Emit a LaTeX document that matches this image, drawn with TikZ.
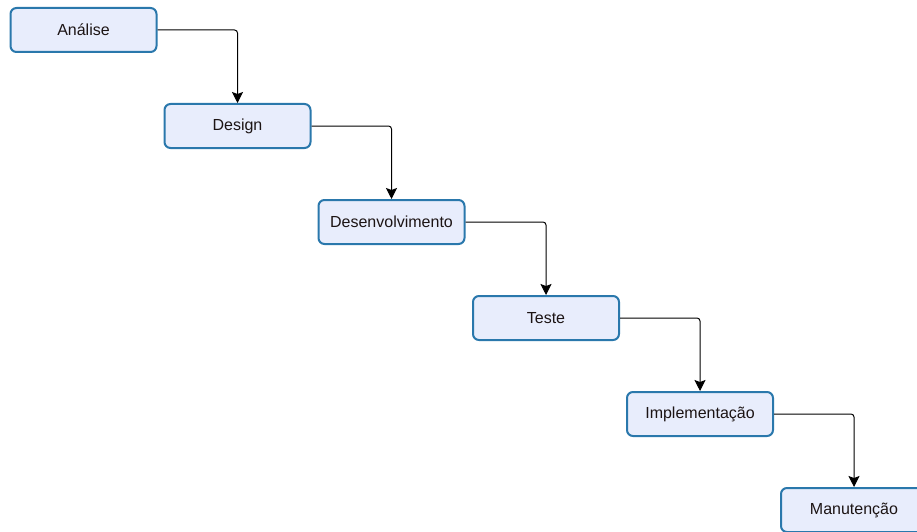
\documentclass[tikz,border=0pt]{standalone}
\usepackage{fontspec}
\setmainfont{Liberation Sans}
\usetikzlibrary{arrows.meta}
\definecolor{boxfill}{HTML}{E8EDFC}
\definecolor{boxline}{HTML}{2A78AC}
\definecolor{txt}{HTML}{1C1414}
\begin{document}
\begin{tikzpicture}[x=1pt,y=-1pt,
  stage/.style={draw=boxline,line width=2pt,fill=boxfill,rounded corners=6pt,
    minimum width=146pt,minimum height=44pt,inner sep=0pt,text=txt,
    font=\fontsize{16}{18}\selectfont},
  flow/.style={draw=black,line width=1pt,rounded corners=3pt,
    -{Stealth[length=11pt,width=11pt,inset=2pt]}}]
\useasboundingbox (0,0) rectangle (917,532);
\clip (0,0) rectangle (917,532);
\node[stage] (a) at (83.5,30) {Análise};
\node[stage] (d) at (237.5,126) {Design};
\node[stage] (v) at (391.5,222) {Desenvolvimento};
\node[stage] (t) at (546,318) {Teste};
\node[stage] (i) at (700,414) {Implementação};
\node[stage] (m) at (854,510) {Manutenção};
\draw[flow] (a.east) -| (d.north);
\draw[flow] (d.east) -| (v.north);
\draw[flow] (v.east) -| (t.north);
\draw[flow] (t.east) -| (i.north);
\draw[flow] (i.east) -| (m.north);
\end{tikzpicture}
\end{document}
